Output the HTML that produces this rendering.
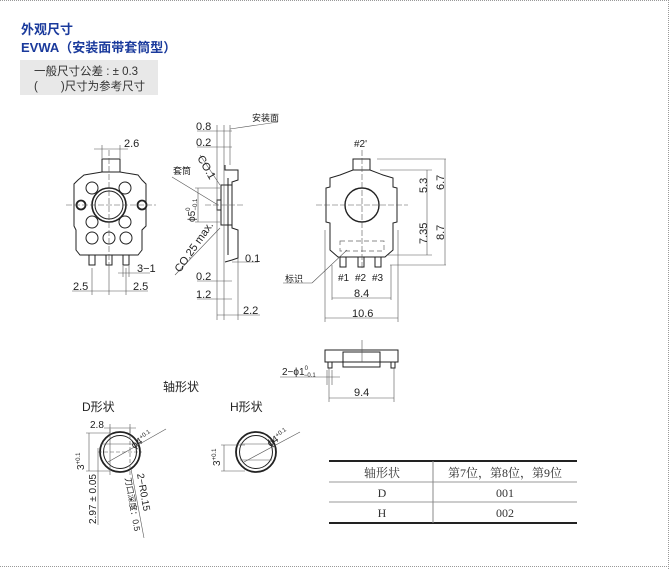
<!DOCTYPE html>
<html><head><meta charset="utf-8"><style>
body{margin:0;background:#fff;width:670px;height:569px;overflow:hidden;position:relative;font-family:"Liberation Sans","Noto Sans CJK SC",sans-serif}
svg{position:absolute;left:0;top:0}
</style></head><body>
<svg width="670" height="569" viewBox="0 0 670 569" font-family="Liberation Sans, Noto Sans CJK SC, sans-serif">
<line x1="0" y1="0.5" x2="670" y2="0.5" stroke="#999" stroke-dasharray="1,1"/>
<line x1="668.5" y1="0" x2="668.5" y2="569" stroke="#999" stroke-dasharray="1,1"/>
<line x1="0" y1="566.5" x2="670" y2="566.5" stroke="#999" stroke-dasharray="1,1"/>
<text x="21" y="34" font-size="13" font-weight="bold" fill="#1a3a9c">外观尺寸</text>
<text x="21" y="52" font-size="13" font-weight="bold" fill="#1a3a9c">EVWA（安装面带套筒型）</text>
<rect x="20" y="60" width="138" height="35" fill="#e8e8e8"/>
<text x="34" y="75" font-size="11.5" fill="#333">一般尺寸公差 : ± 0.3</text>
<text x="34" y="90" font-size="11.5" fill="#333">(　　)尺寸为参考尺寸</text>

<g stroke="#222" fill="none" stroke-width="1">
<rect x="102" y="159" width="18" height="13"/>
<path d="M84 175 L102 172 L120 172 L138 175 L142 180 L146 184 L146 226 L142 230 L142 250 L138 255 L80 255 L76 250 L76 230 L74 226 L74 184 L78 180 Z"/>
<circle cx="109" cy="205" r="17" stroke-width="1.6"/><circle cx="109" cy="205" r="14"/>
<circle cx="92" cy="188" r="6"/><circle cx="125" cy="188" r="6"/>
<circle cx="81" cy="205" r="4.5" stroke-width="1.8"/><circle cx="142" cy="205" r="4.5" stroke-width="1.8"/>
<circle cx="92" cy="222" r="6"/><circle cx="125" cy="222" r="6"/>
<circle cx="92" cy="238" r="6"/><circle cx="109" cy="238" r="6"/><circle cx="126" cy="238" r="6"/>
<rect x="89" y="255" width="6" height="10"/><rect x="106" y="255" width="6" height="10"/><rect x="123" y="255" width="6" height="10"/>
</g>
<g stroke="#555" stroke-width="0.6" fill="none">
<line x1="66" y1="205" x2="156" y2="205" stroke-dasharray="6,2"/><line x1="109" y1="150" x2="109" y2="270" stroke-dasharray="6,2"/>
<line x1="92" y1="268" x2="92" y2="295"/><line x1="109" y1="268" x2="109" y2="295"/><line x1="126" y1="268" x2="126" y2="295"/>
<line x1="72" y1="291" x2="148" y2="291"/>
<line x1="94" y1="149" x2="128" y2="149"/><line x1="102" y1="145" x2="102" y2="158"/><line x1="120" y1="145" x2="120" y2="158"/>
<line x1="118" y1="273" x2="150" y2="273"/><line x1="123" y1="266" x2="123" y2="277"/><line x1="129" y1="266" x2="129" y2="277"/>
</g>
<g font-size="11" fill="#222">
<text x="124" y="147">2.6</text><text x="137" y="272">3−1</text>
<text x="73" y="290">2.5</text><text x="133" y="290">2.5</text>
</g>

<g stroke="#222" fill="none" stroke-width="1">
<path d="M225 165 L225 170 L238 170 L238 180 L232 182 L232 228 L238 230 L238 258 L232 260 L225 262"/>
<rect x="221" y="185" width="11" height="40"/>
<rect x="217" y="200" width="4" height="10"/>
<line x1="228" y1="178" x2="228" y2="255"/>
</g>
<g stroke="#555" stroke-width="0.6" fill="none">
<line x1="217" y1="125" x2="217" y2="320"/><line x1="224" y1="125" x2="224" y2="320"/><line x1="230" y1="125" x2="230" y2="165"/><line x1="238" y1="258" x2="238" y2="320"/>
<line x1="197" y1="131" x2="232" y2="131"/><line x1="197" y1="147" x2="232" y2="147"/>
<line x1="230" y1="129" x2="278" y2="122"/>
<line x1="172" y1="177" x2="218" y2="205"/>
<line x1="195" y1="188" x2="220" y2="188"/><line x1="195" y1="222" x2="220" y2="222"/><line x1="198" y1="188" x2="198" y2="222"/>
<line x1="200" y1="155" x2="220" y2="185"/>
<line x1="175" y1="275" x2="220" y2="228"/>
<line x1="232" y1="262" x2="258" y2="262"/>
<line x1="197" y1="281" x2="232" y2="281"/><line x1="197" y1="299" x2="232" y2="299"/><line x1="217" y1="315" x2="260" y2="315"/>
<line x1="205" y1="205" x2="245" y2="205" stroke-dasharray="6,2"/>
</g>
<g font-size="11" fill="#222">
<text x="196" y="130">0.8</text><text x="196" y="146">0.2</text>
<text x="252" y="121" font-size="9">安装面</text>
<text x="173" y="174" font-size="9">套筒</text>
<text transform="translate(197,158) rotate(60)" font-size="11">CO.1</text>
<text transform="translate(195,222) rotate(-90)" font-size="10">ϕ5<tspan font-size="6" dy="-5">0</tspan><tspan font-size="6" dx="-3" dy="7">−0.1</tspan></text>
<text transform="translate(180,273) rotate(-55)" font-size="11">CO.25 max.</text>
<text x="245" y="262">0.1</text><text x="196" y="280">0.2</text><text x="196" y="298">1.2</text><text x="243" y="314">2.2</text>
</g>

<g stroke="#222" fill="none" stroke-width="1">
<rect x="353" y="159" width="17" height="11"/>
<path d="M340 175 L353 170 L370 170 L383 175 L393 178 L393 187 L397 188 L397 222 L393 223 L393 250 L385 257 L338 257 L330 250 L330 223 L326 222 L326 188 L330 187 L330 178 Z"/>
<circle cx="362" cy="205" r="17" stroke-width="1.4"/>
<rect x="340" y="257" width="6" height="10"/><rect x="358" y="257" width="6" height="10"/><rect x="375" y="257" width="6" height="10"/>
<rect x="325" y="350" width="73" height="12"/>
<rect x="328" y="362" width="4" height="6"/><rect x="391" y="362" width="4" height="6"/>
<rect x="343" y="352" width="37" height="15"/>
</g>
<rect x="340" y="241" width="44" height="10" fill="none" stroke="#666" stroke-width="0.7" stroke-dasharray="5,3"/>
<g stroke="#555" stroke-width="0.6" fill="none">
<line x1="316" y1="205" x2="408" y2="205" stroke-dasharray="6,2"/><line x1="362" y1="150" x2="362" y2="270" stroke-dasharray="6,2"/>
<line x1="377" y1="159" x2="446" y2="159"/><line x1="380" y1="170" x2="432" y2="170"/><line x1="388" y1="255" x2="432" y2="255"/><line x1="390" y1="265" x2="446" y2="265"/>
<line x1="427" y1="170" x2="427" y2="255"/><line x1="445" y1="159" x2="445" y2="265"/>
<line x1="325" y1="230" x2="325" y2="322"/><line x1="398" y1="230" x2="398" y2="322"/><line x1="332" y1="265" x2="332" y2="300"/><line x1="391" y1="265" x2="391" y2="300"/>
<line x1="332" y1="298" x2="391" y2="298"/><line x1="325" y1="318" x2="398" y2="318"/>
<line x1="283" y1="283" x2="312" y2="283"/><line x1="312" y1="283" x2="347" y2="250"/>
<line x1="362" y1="340" x2="362" y2="362"/>
<line x1="280" y1="377" x2="340" y2="377"/><line x1="327" y1="370" x2="327" y2="385"/><line x1="332" y1="370" x2="332" y2="385"/>
<line x1="329" y1="368" x2="329" y2="402"/><line x1="394" y1="368" x2="394" y2="402"/><line x1="329" y1="398" x2="394" y2="398"/>
</g>
<g font-size="11" fill="#222">
<text x="354" y="147" font-size="10">#2'</text>
<text transform="translate(427,193) rotate(-90)">5.3</text><text transform="translate(444,190) rotate(-90)">6.7</text>
<text transform="translate(427,244) rotate(-90)">7.35</text><text transform="translate(444,240) rotate(-90)">8.7</text>
<text x="338" y="281" font-size="10">#1</text><text x="355" y="281" font-size="10">#2</text><text x="372" y="281" font-size="10">#3</text>
<text x="354" y="297">8.4</text><text x="352" y="317">10.6</text>
<text x="285" y="282" font-size="9">标识</text>
<text x="282" y="375" font-size="10">2−ϕ1<tspan font-size="6" dy="-5">0</tspan><tspan font-size="6" dx="-4" dy="7">−0.1</tspan></text>
<text x="354" y="396">9.4</text>
</g>

<g font-size="12" fill="#222"><text x="163" y="391">轴形状</text><text x="82" y="411">D形状</text><text x="230" y="411">H形状</text></g>
<g transform="translate(0,4)">
<g stroke="#222" fill="none">
<circle cx="120" cy="448" r="20" stroke-width="1.8"/><circle cx="120" cy="448" r="16.5"/>
<circle cx="256" cy="448" r="20" stroke-width="1.8"/><circle cx="256" cy="448" r="16.5"/>
</g>
<g stroke="#555" stroke-width="0.6" fill="none">
<line x1="101" y1="440" x2="139" y2="440"/><line x1="98" y1="448" x2="142" y2="448" stroke-dasharray="4,2"/>
<line x1="110" y1="425" x2="110" y2="471"/><line x1="130" y1="425" x2="130" y2="471" stroke-dasharray="4,2"/>
<line x1="104" y1="424" x2="136" y2="424"/><line x1="110" y1="420" x2="110" y2="430"/><line x1="130" y1="420" x2="130" y2="430"/>
<line x1="86" y1="429" x2="110" y2="429"/><line x1="86" y1="467" x2="110" y2="467"/><line x1="89" y1="429" x2="89" y2="467"/><line x1="98" y1="444" x2="98" y2="521"/>
<line x1="108" y1="458" x2="166" y2="425"/><line x1="131" y1="465" x2="144" y2="534"/>
<line x1="240" y1="440" x2="272" y2="440"/><line x1="240" y1="456" x2="272" y2="456"/>
<line x1="221" y1="441" x2="245" y2="441"/><line x1="221" y1="467" x2="245" y2="467"/><line x1="224" y1="441" x2="224" y2="467"/>
<line x1="244" y1="458" x2="300" y2="428"/>
</g>
<g font-size="10" fill="#222">
<text x="90" y="424">2.8</text>
<text transform="translate(134,445) rotate(-35)">ϕ4<tspan font-size="6" dy="-4">+0.1</tspan></text>
<text transform="translate(270,443) rotate(-35)">ϕ4<tspan font-size="6" dy="-4">+0.1</tspan></text>
<text transform="translate(84,466) rotate(-90)">3<tspan font-size="6" dy="-4">+0.1</tspan></text>
<text transform="translate(220,462) rotate(-90)">3<tspan font-size="6" dy="-4">+0.1</tspan></text>
<text transform="translate(96,520) rotate(-90)">2.97 ± 0.05</text>
<text transform="translate(137,470) rotate(80)">2−R0.15</text>
<text transform="translate(125,474) rotate(80)" font-size="8.5">刀口深度：0.5</text>
</g>
</g>

<g stroke="#222" fill="none">
<line x1="329" y1="461" x2="577" y2="461" stroke-width="2"/>
<line x1="329" y1="482" x2="577" y2="482" stroke="#999"/>
<line x1="329" y1="502" x2="577" y2="502" stroke="#999"/>
<line x1="329" y1="523" x2="577" y2="523" stroke-width="2"/>
<line x1="433" y1="461" x2="433" y2="523" stroke="#888"/>
</g>
<g font-family="Liberation Serif, Noto Serif CJK SC, serif" font-size="12" fill="#333" text-anchor="middle">
<text x="382" y="477">轴形状</text><text x="505" y="477">第7位，第8位，第9位</text>
<text x="382" y="497">D</text><text x="505" y="497">001</text>
<text x="382" y="517">H</text><text x="505" y="517">002</text>
</g>
</svg>
</body></html>
